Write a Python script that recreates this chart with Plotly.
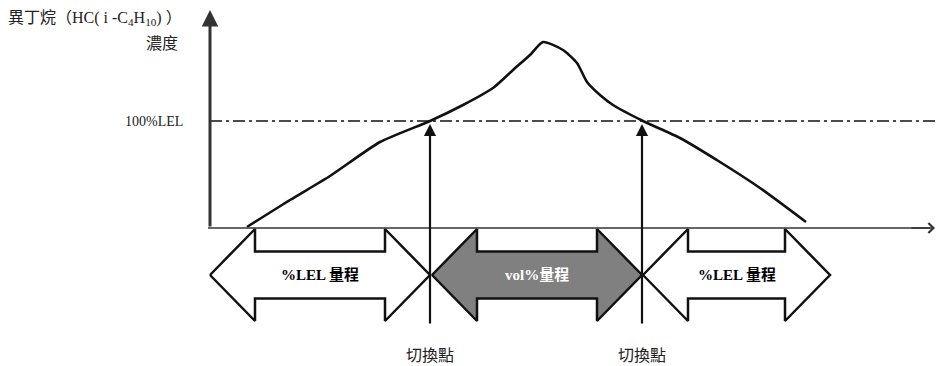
import plotly.graph_objects as go

# concentration curve (time units on x, concentration units on y)
curve_t = [37, 80, 120, 170, 220, 253, 283, 303, 320, 333, 353, 367, 377, 390, 403, 433, 470, 510, 550, 596]
curve_c = [1, 28, 52, 86, 107, 123, 140, 158, 173, 186, 178, 165, 146, 133, 123, 107, 90, 66, 40, 6]

lel_level = 107
switch_points = [220, 432]
switch_labels = ['切換點', '切換點']

range_starts = [0, 222, 433]
range_ends = [220, 432, 620]
range_labels = ['%LEL 量程', 'vol%量程', '%LEL 量程']
range_fills = ['white', '#808080', 'white']
range_text_colors = ['black', 'white', 'black']

y_title = '異丁烷（HC( i -C<sub>4</sub>H<sub>10</sub>) ）'
y_unit = '濃度'
lel_label = '100%LEL'

FONT = 'Liberation Serif, Noto Sans CJK TC'


def blockArrow(x0, x1, yc, shaft=23.5, head=46, hl=45):
    xs = [x0, x0 + hl, x0 + hl, x1 - hl, x1 - hl, x1, x1 - hl, x1 - hl, x0 + hl, x0 + hl, x0]
    ys = [yc, yc + head, yc + shaft, yc + shaft, yc + head, yc, yc - head, yc - shaft, yc - shaft, yc - head, yc]
    return xs, ys


fig = go.Figure()

# block arrows for ranges
for x0, x1, lab, fc, tc in zip(range_starts, range_ends, range_labels, range_fills, range_text_colors):
    xs, ys = blockArrow(x0, x1, -47)
    fig.add_trace(go.Scatter(x=xs, y=ys, mode='lines', fill='toself', fillcolor=fc,
                             line=dict(color='#111', width=2.5), hoverinfo='skip'))
    fig.add_annotation(x=(x0 + x1) / 2, y=-47, text=f'<b>{lab}</b>', showarrow=False,
                       font=dict(family=FONT, size=15, color=tc))

# LEL dash-dot line
fig.add_trace(go.Scatter(x=[0, 725], y=[lel_level, lel_level], mode='lines',
                         line=dict(color='#111', width=1.6, dash='12px,4px,3px,4px'), hoverinfo='skip'))

# curve
fig.add_trace(go.Scatter(x=curve_t, y=curve_c, mode='lines', line=dict(color='#111', width=2.6, shape='spline', smoothing=0.6),
                         hoverinfo='skip'))

# x axis with open arrow
fig.add_trace(go.Scatter(x=[-2, 720], y=[0, 0], mode='lines', line=dict(color='#333', width=1.5), hoverinfo='skip'))
fig.add_annotation(x=725, y=0, ax=700, ay=0, axref='x', ayref='y', xref='x', yref='y', text='',
                   showarrow=True, arrowhead=4, arrowsize=1.3, arrowwidth=1.5, arrowcolor='#333')
# y axis
fig.add_annotation(x=0, y=218, ax=0, ay=0, axref='x', ayref='y', xref='x', yref='y', text='',
                   showarrow=True, arrowhead=2, arrowsize=1.1, arrowwidth=3, arrowcolor='#333')

# switch point arrows
for sp, lab in zip(switch_points, switch_labels):
    fig.add_annotation(x=sp, y=lel_level - 3, ax=sp, ay=-97, axref='x', ayref='y', xref='x', yref='y', text='',
                       showarrow=True, arrowhead=2, arrowsize=1.1, arrowwidth=2.2, arrowcolor='#111')
    fig.add_annotation(x=sp, y=-127, text=lab, showarrow=False,
                       font=dict(family=FONT, size=16, color='#222'))

fig.add_annotation(x=-25, y=lel_level, text=lel_label, showarrow=False, xanchor='right',
                   font=dict(family=FONT, size=14, color='#222'))
fig.add_annotation(x=-30, y=185, text=y_unit, showarrow=False, xanchor='right',
                   font=dict(family=FONT, size=16, color='#222'))
fig.add_annotation(x=-201, y=210, xshift=-3, text=y_title, showarrow=False, xanchor='left',
                   font=dict(family=FONT, size=16, color='#222'))

# the page body adds an 8px margin, so the figure is 8px smaller than the window
fig.update_layout(width=935, height=358, margin=dict(l=0, r=0, t=0, b=0),
                  plot_bgcolor='white', paper_bgcolor='white', showlegend=False,
                  xaxis=dict(range=[-202, 733], visible=False, fixedrange=True),
                  yaxis=dict(range=[-138, 220], visible=False, fixedrange=True))

fig.write_html("out.html")
